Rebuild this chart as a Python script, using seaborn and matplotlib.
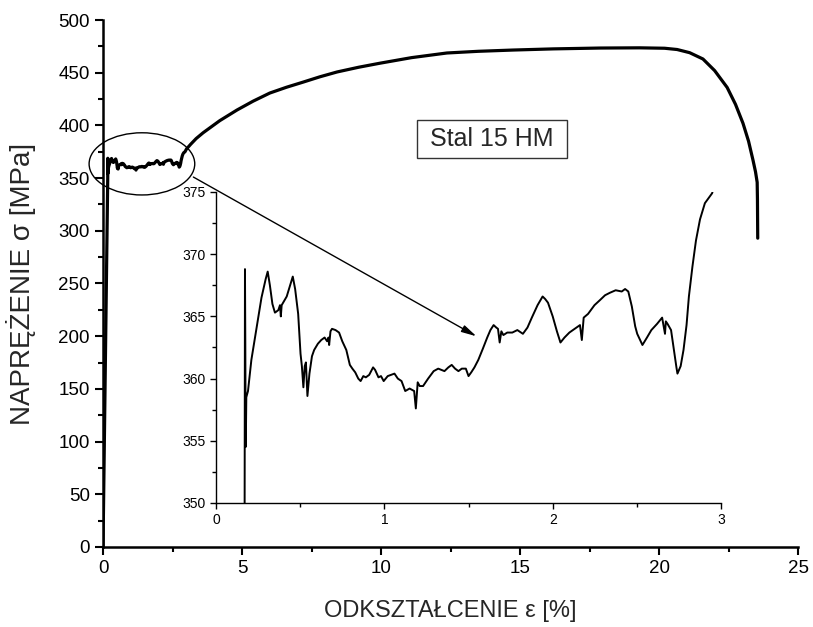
import pandas as pd
import seaborn as sns
import matplotlib.pyplot as plt
from matplotlib.patches import Ellipse, Rectangle
from matplotlib.ticker import MultipleLocator

# elastic part + upper yield point
elastic_strain = [0.0, 0.17, 0.172, 0.174, 0.176, 0.178, 0.18, 0.19]
elastic_stress = [0.0, 350.0, 368.8, 363.0, 354.5, 356.0, 358.5, 359.0]

# yield plateau
plateau_strain = [
    0.21, 0.24, 0.27, 0.295, 0.307, 0.32, 0.335, 0.35, 0.37, 0.38, 0.385, 0.39,
    0.42, 0.44, 0.456, 0.47, 0.488, 0.502, 0.51, 0.519, 0.527, 0.534, 0.543,
    0.555, 0.57, 0.583, 0.605, 0.625, 0.645, 0.66, 0.668, 0.672, 0.68, 0.689,
    0.71, 0.731, 0.75, 0.774, 0.795, 0.81, 0.827, 0.845, 0.859, 0.875, 0.89,
    0.91, 0.933, 0.945, 0.965, 0.98, 0.996, 1.02, 1.04, 1.06, 1.08, 1.102,
    1.124, 1.15, 1.177, 1.187, 1.198, 1.21, 1.23, 1.26, 1.293, 1.32, 1.357,
    1.38, 1.4, 1.42, 1.44, 1.46, 1.484, 1.5, 1.516, 1.535, 1.558, 1.585,
    1.611, 1.63, 1.649, 1.665, 1.675, 1.685, 1.695, 1.707, 1.73, 1.76, 1.79,
    1.823, 1.85, 1.876, 1.91, 1.94, 1.955, 1.972, 2.0, 2.025, 2.046, 2.07,
    2.099, 2.13, 2.162, 2.173, 2.184, 2.21, 2.248, 2.28, 2.311, 2.34, 2.374,
    2.41, 2.43, 2.449, 2.47, 2.49, 2.502, 2.533, 2.56, 2.586, 2.62, 2.65,
    2.667, 2.672, 2.682, 2.703, 2.72, 2.735, 2.741, 2.76, 2.777, 2.795, 2.809,
    2.83, 2.851, 2.875, 2.904, 2.947,
]
plateau_stress = [
    361.5, 364.0, 366.5, 368.0, 368.6, 367.5, 366.0, 365.3, 365.5, 365.9, 365.0, 365.9,
    366.6, 367.5, 368.2, 367.2, 365.2, 362.0, 361.0, 359.3, 361.0, 361.3, 358.6,
    360.4, 361.8, 362.3, 362.8, 363.1, 363.3, 363.0, 363.3, 362.7, 363.8, 364.0,
    363.9, 363.7, 363.0, 362.3, 361.1, 360.8, 360.5, 360.0, 359.8, 360.2, 360.1,
    360.3, 360.9, 360.7, 360.1, 360.2, 359.8, 360.2, 360.3, 360.4, 360.0, 359.8,
    359.0, 359.2, 359.0, 357.6, 359.7, 359.4, 359.4, 360.0, 360.6, 360.8, 360.6,
    360.9, 361.1, 360.8, 360.6, 360.8, 360.8, 360.2, 360.5, 360.9, 361.5, 362.4,
    363.3, 363.9, 364.3, 364.1, 364.0, 362.9, 363.8, 363.5, 363.7, 363.7, 363.9,
    363.6, 364.1, 364.9, 365.9, 366.6, 366.4, 366.1, 365.0, 363.8, 362.9, 363.3,
    363.7, 364.0, 364.3, 363.1, 364.9, 365.2, 365.9, 366.3, 366.7, 366.9, 367.1,
    367.0, 367.2, 367.0, 365.8, 364.2, 363.6, 362.7, 363.3, 363.9, 364.4, 364.9,
    363.6, 364.6, 364.4, 363.9, 362.3, 360.9, 360.4, 361.0, 362.3, 364.3, 366.6,
    369.0, 371.1, 372.8, 374.1, 374.9,
]

# strain hardening and necking
hardening_strain = [3.0, 3.15, 3.35, 3.6, 4.2, 4.82, 5.4, 6.0, 6.6, 7.19, 7.8, 8.42,
                    9.2, 9.96, 11.1, 12.37, 13.5, 14.75, 16.2, 17.88, 19.3, 20.2,
                    20.65, 21.1, 21.58, 22.0, 22.45, 22.75, 23.02, 23.22, 23.38,
                    23.47, 23.53, 23.54, 23.55]
hardening_stress = [377.5, 382.0, 387.5, 393.0, 404.5, 414.6, 423.0, 430.7, 436.2,
                    441.0, 446.1, 450.7, 455.2, 459.0, 464.3, 468.7, 470.3, 471.5,
                    472.6, 473.4, 473.6, 473.2, 472.0, 469.0, 463.0, 452.0, 436.0,
                    420.0, 402.0, 385.0, 367.0, 356.0, 346.0, 330.0, 293.0]

df = pd.DataFrame({
    "strain": elastic_strain + plateau_strain + hardening_strain,
    "stress": elastic_stress + plateau_stress + hardening_stress,
})

sns.set_style("ticks")
plt.rcParams["font.family"] = ["Liberation Sans", "DejaVu Sans"]

fig = plt.figure(figsize=(8.13, 6.27), dpi=100)

# main chart
ax = fig.add_axes([0.1267, 0.1276, 0.8549, 0.8405])
sns.lineplot(data=df, x="strain", y="stress", sort=False, estimator=None,
             color="black", lw=2.3, ax=ax)
ax.set_xlim(0, 25)
ax.set_ylim(0, 500)
ax.xaxis.set_major_locator(MultipleLocator(5))
ax.xaxis.set_minor_locator(MultipleLocator(2.5))
ax.yaxis.set_major_locator(MultipleLocator(50))
ax.yaxis.set_minor_locator(MultipleLocator(25))
ax.tick_params(which="major", direction="out", length=6, width=1.5,
               labelsize=13.5, color="black", labelcolor="black")
ax.tick_params(which="minor", direction="out", length=3.5, width=1.5, color="black")
sns.despine(ax=ax)
for side in ["left", "bottom"]:
    ax.spines[side].set_linewidth(1.8)
    ax.spines[side].set_color("black")
ax.set_xlabel("ODKSZTAŁCENIE ε [%]", fontsize=17)
ax.set_ylabel("NAPRĘŻENIE σ [MPa]", fontsize=20)
ax.xaxis.set_label_coords(0.5, -0.1)
ax.yaxis.set_label_coords(-0.096, 0.5)

# label box
ax.add_patch(Rectangle((11.29, 369), 5.4, 36, fill=True, fc="white",
                       ec="#333333", lw=1, zorder=3))
ax.text(14.0, 387, "Stal 15 HM", fontsize=18, ha="center", va="center", zorder=4)

ax.add_patch(Ellipse((1.4, 363.5), 3.8, 59, fill=False, ec="black", lw=1,
                     clip_on=False))

# inset: zoom of the yield plateau
ax_in = fig.add_axes([0.2657, 0.1978, 0.6212, 0.496])
ax_in.set_facecolor("none")
sns.lineplot(data=df, x="strain", y="stress", sort=False, estimator=None,
             color="black", lw=1.4, ax=ax_in)
ax_in.set_xlim(0, 3)
ax_in.set_ylim(350, 375)
ax_in.xaxis.set_major_locator(MultipleLocator(1))
ax_in.xaxis.set_minor_locator(MultipleLocator(0.5))
ax_in.yaxis.set_major_locator(MultipleLocator(5))
ax_in.yaxis.set_minor_locator(MultipleLocator(2.5))
ax_in.tick_params(which="major", direction="out", length=4.5, width=1,
                  labelsize=10, color="black", labelcolor="black", pad=3)
ax_in.tick_params(which="minor", direction="out", length=3, width=1, color="black")
sns.despine(ax=ax_in)
for side in ["left", "bottom"]:
    ax_in.spines[side].set_linewidth(1)
    ax_in.spines[side].set_color("black")
ax_in.set_xlabel("")
ax_in.set_ylabel("")

ax_in.annotate("", xy=(1.547, 363.4), xycoords="data",
               xytext=(3.25, 351), textcoords=ax.transData,
               arrowprops=dict(arrowstyle="-|>,head_length=0.9,head_width=0.22",
                               color="black", lw=1, shrinkA=0, shrinkB=0),
               annotation_clip=False)

fig.savefig("out.png", dpi=100)
